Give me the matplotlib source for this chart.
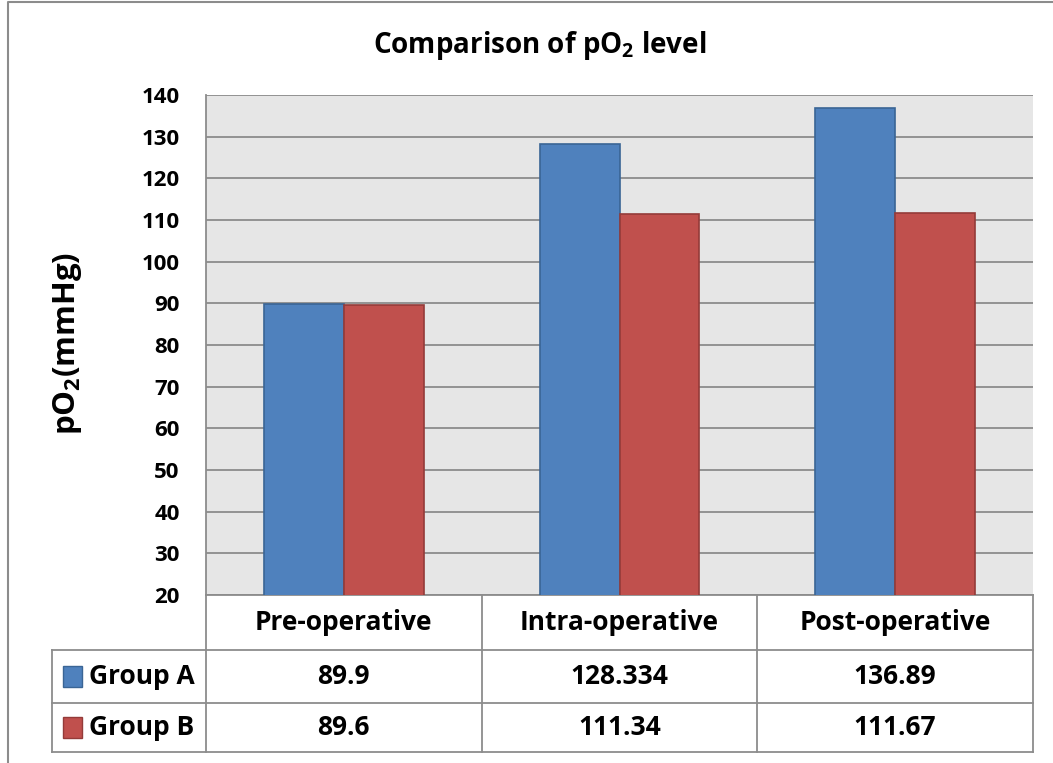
import matplotlib
matplotlib.use("Agg")
import matplotlib.pyplot as plt
from matplotlib.lines import Line2D
from matplotlib.patches import Rectangle
import matplotlib.transforms as mtransforms

plt.rcParams['font.family'] = ['Open Sans', 'DejaVu Sans']
plt.rcParams['font.weight'] = 'bold'
plt.rcParams['mathtext.fontset'] = 'custom'
plt.rcParams['mathtext.rm'] = 'Open Sans:bold'
plt.rcParams['mathtext.it'] = 'Open Sans:bold'
plt.rcParams['mathtext.bf'] = 'Open Sans:bold'

categories = ["Pre-operative", "Intra-operative", "Post-operative"]
groups = ["Group A", "Group B"]
group_a = [89.9, 128.334, 136.89]
group_b = [89.6, 111.34, 111.67]
table_text = [["89.9", "128.334", "136.89"], ["89.6", "111.34", "111.67"]]
yticks = list(range(20, 141, 10))

colors = ["#4F81BD", "#C0504D"]
edges = ["#3A6595", "#943B39"]
line_gray = "#8C8C8C"

W, H = 1053, 763
fig = plt.figure(figsize=(W / 100, H / 100), dpi=100, facecolor="white")

def fx(x):
    return x / W

def fy(y):
    return 1 - y / H

ax = fig.add_axes([fx(206), fy(595), fx(1033) - fx(206), fy(95) - fy(595)])
ax.set_facecolor("#E6E6E6")
ax.set_xlim(-0.5, 2.5)
ax.set_ylim(20, 140)
ax.set_yticks(yticks)
ax.set_xticks([])
ax.tick_params(axis="y", length=0, pad=19, labelsize=16)
for lbl in ax.get_yticklabels():
    lbl.set_fontweight("bold")
ax.grid(axis="y", color=line_gray, linewidth=1.3)
ax.set_axisbelow(True)
for s in ["top", "right"]:
    ax.spines[s].set_visible(False)
ax.spines["left"].set_color(line_gray)
ax.spines["left"].set_linewidth(1.3)
ax.spines["bottom"].set_color(line_gray)
ax.spines["bottom"].set_linewidth(1.3)

w = 0.29
xs = range(len(categories))
ax.bar([x - w / 2 for x in xs], group_a, width=w, bottom=0, color=colors[0],
       edgecolor=edges[0], linewidth=1.2, zorder=3)
ax.bar([x + w / 2 for x in xs], group_b, width=w, bottom=0, color=colors[1],
       edgecolor=edges[1], linewidth=1.2, zorder=3)

# data table under the axes: x in data units, y in figure units
tr = mtransforms.blended_transform_factory(ax.transData, fig.transFigure)
row_y = [595, 650, 703, 752]
for xb in [-0.5, 0.5, 1.5, 2.5]:
    fig.add_artist(Line2D([xb, xb], [fy(595), fy(752)], transform=tr,
                          color=line_gray, lw=1.3))
for y in row_y[1:]:
    fig.add_artist(Line2D([fx(52), fx(1033)], [fy(y), fy(y)],
                          transform=fig.transFigure, color=line_gray, lw=1.3))
fig.add_artist(Line2D([fx(52), fx(52)], [fy(650), fy(752)],
                      transform=fig.transFigure, color=line_gray, lw=1.3))

for i, cat in enumerate(categories):
    fig.text(i, fy(623), cat, transform=tr, ha="center", va="center",
             fontsize=19, fontweight="bold")
for r in range(2):
    yc = (row_y[r + 1] + row_y[r + 2]) / 2
    for i in range(len(categories)):
        fig.text(i, fy(yc), table_text[r][i], transform=tr, ha="center",
                 va="center", fontsize=19, fontweight="bold")
    fig.add_artist(Rectangle((fx(63), fy(yc + 10)), fx(19), fy(0) - fy(21),
                             transform=fig.transFigure, facecolor=colors[r],
                             edgecolor=edges[r], lw=1.0))
    fig.text(fx(89), fy(yc), groups[r], ha="left", va="center",
             fontsize=19, fontweight="bold")

# outer chart border (left and top only visible)
fig.add_artist(Line2D([fx(8), fx(8), fx(W)], [0, fy(2), fy(2)],
                      transform=fig.transFigure, color=line_gray, lw=1.5))

fig.text(fx(540), fy(45), "Comparison of pO$_2$ level", ha="center",
         va="center", fontsize=20, fontweight="bold")
fig.text(fx(67), fy(343), "pO$_2$(mmHg)", ha="center", va="center",
         rotation=90, fontsize=22.5, fontweight="bold")

fig.savefig("out.png", dpi=100, facecolor="white")
